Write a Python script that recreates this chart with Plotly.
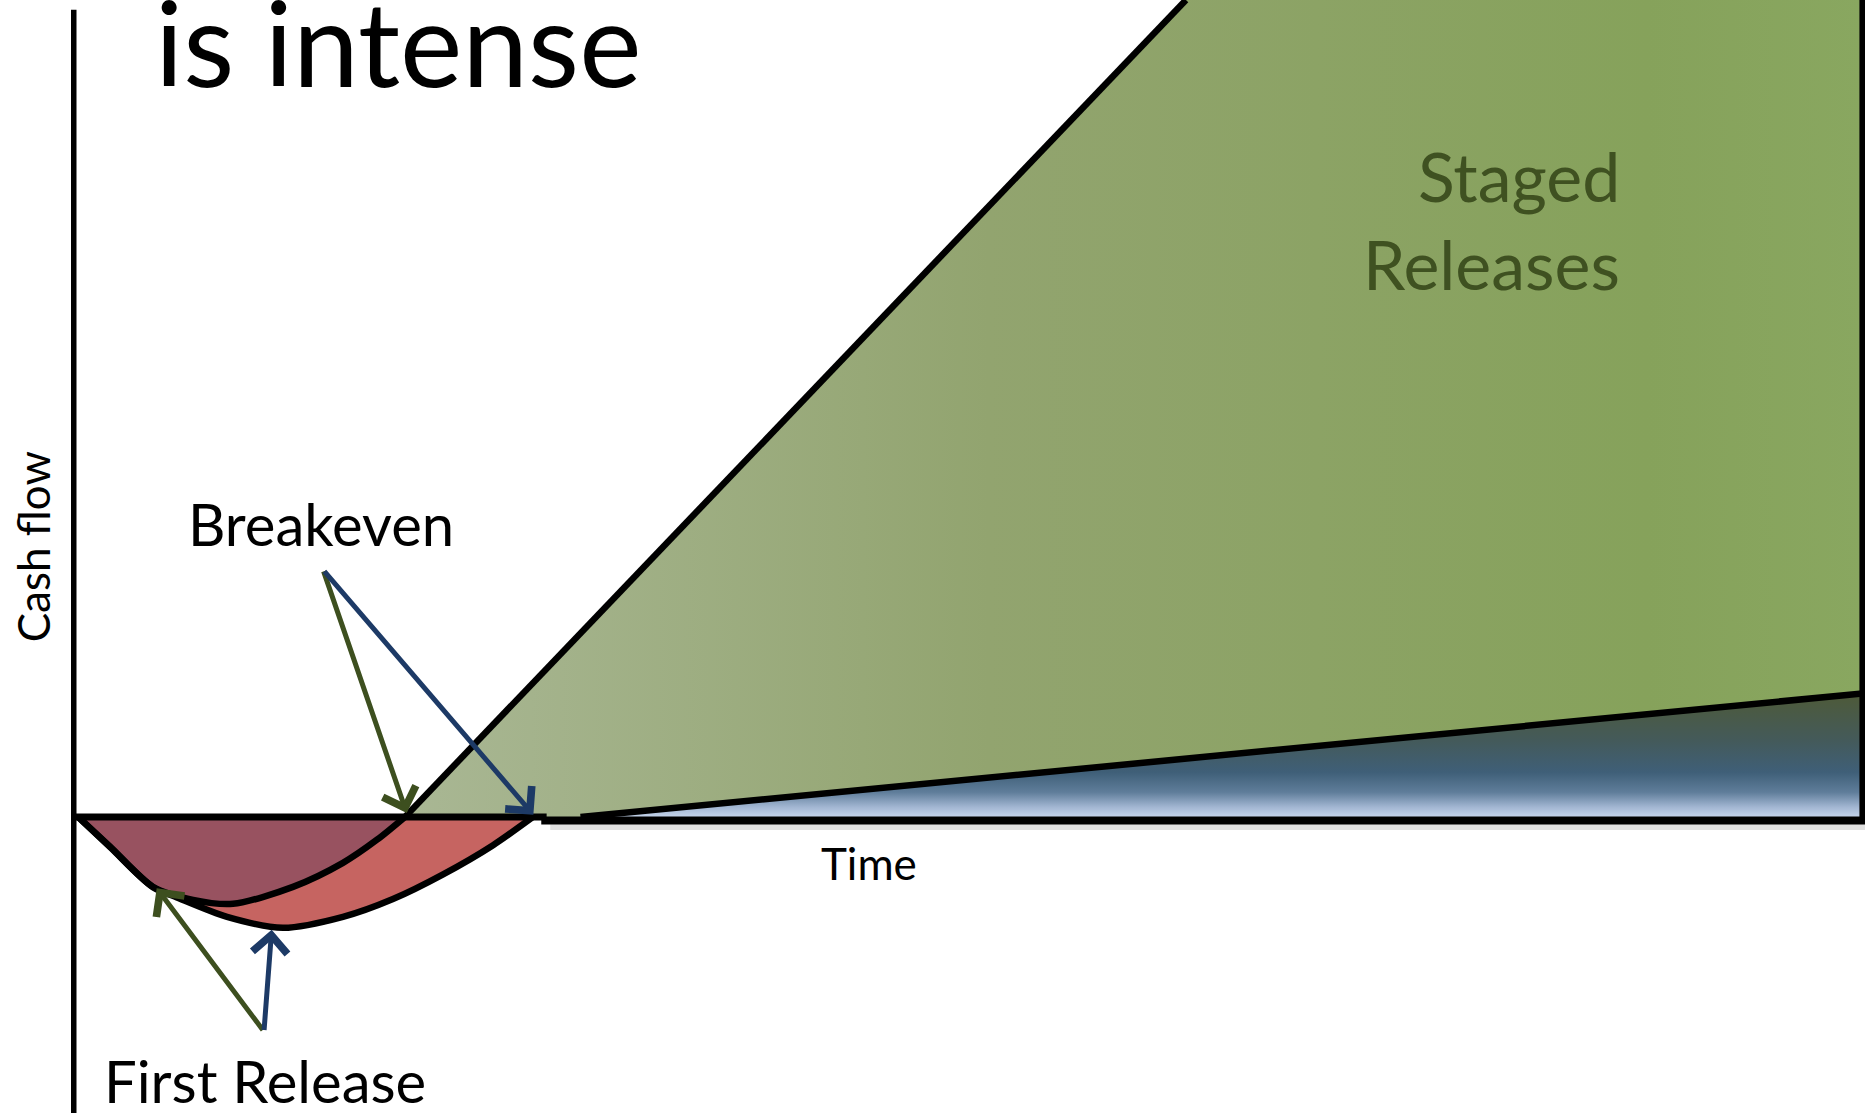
import plotly.graph_objects as go

# Cash flow over time: staged releases vs. one single release
# Investment dip of the first staged release (cash below zero)
staged_dip_time = [0.24, 2.03, 4.42, 6.66, 8.89, 12.24, 15.03, 16.93, 18.49]
staged_dip_cash = [0.0, -3.64, -8.55, -10.15, -10.64, -8.56, -5.62, -2.79, 0.0]

# Investment dip of the single big release
single_dip_time = [0.24, 2.03, 4.42, 5.76, 8.56, 11.68, 15.03, 17.82, 20.62, 23.41, 25.64]
single_dip_cash = [0.0, -3.7, -8.6, -9.85, -12.23, -13.57, -12.23, -10.05, -7.03, -3.46, 0.0]

# Returns after breakeven
staged_return_time = [18.49, 62.09, 100.0, 100.0, 28.29]
staged_return_cash = [0.0, 100.0, 100.0, 15.14, 0.0]
single_return_time = [28.29, 99.87, 99.87]
single_return_cash = [0.0, 15.14, 0.0]

# Callout arrows: (tail time, tail cash, head time, head cash)
breakeven_staged = (13.92, 30.25, 18.59, 0.47)
breakeven_single = (13.92, 30.25, 25.66, 0.26)
release_staged = (10.62, -26.26, 4.63, -8.72)
release_single = (10.62, -26.26, 11.05, -13.81)

FONT = "Lato"
STAGED_ARROW = "#3d4f1f"
SINGLE_ARROW = "#1d3a66"
OUTLINE = 6.5
SPLINE = dict(shape="spline", smoothing=0.8)

fig = go.Figure()

# Dips below zero: single release first, staged release on top
fig.add_trace(go.Scatter(
    x=single_dip_time, y=single_dip_cash,
    mode="lines", fill="tozeroy", fillcolor="#c66461",
    line=dict(color="rgba(0,0,0,0)", width=0, **SPLINE),
    hoverinfo="skip", showlegend=False))
fig.add_trace(go.Scatter(
    x=staged_dip_time, y=staged_dip_cash,
    mode="lines", fill="tozeroy", fillcolor="#985260",
    line=dict(color="rgba(0,0,0,0)", width=0, **SPLINE),
    hoverinfo="skip", showlegend=False))
for tt, cc in [(single_dip_time, single_dip_cash), (staged_dip_time, staged_dip_cash)]:
    fig.add_trace(go.Scatter(
        x=tt, y=cc, mode="lines",
        line=dict(color="black", width=OUTLINE, **SPLINE),
        hoverinfo="skip", showlegend=False))

# Returns regions
fig.add_trace(go.Scatter(
    x=staged_return_time, y=staged_return_cash,
    mode="lines", fill="toself",
    fillgradient=dict(type="horizontal",
                      colorscale=[[0, "#a9b794"], [0.4, "#92a46f"], [0.85, "#86a25b"],
                                  [1, "#89a760"]]),
    line=dict(color="rgba(0,0,0,0)", width=0),
    hoverinfo="skip", showlegend=False))
fig.add_trace(go.Scatter(
    x=single_return_time, y=single_return_cash,
    mode="lines", fill="toself",
    fillgradient=dict(type="vertical",
                      colorscale=[[0, "#c4d3ea"], [0.08, "#a2b6d2"], [0.2, "#5f7d9a"],
                                  [0.36, "#3f5f78"], [0.62, "#445a5a"], [1, "#4e5a38"]]),
    line=dict(color="rgba(0,0,0,0)", width=0),
    hoverinfo="skip", showlegend=False))

# Outline of the returns regions
fig.add_trace(go.Scatter(
    x=staged_return_time[:2], y=staged_return_cash[:2], mode="lines",
    line=dict(color="black", width=OUTLINE), hoverinfo="skip", showlegend=False))
fig.add_trace(go.Scatter(
    x=[staged_return_time[4], staged_return_time[3]],
    y=[staged_return_cash[4], staged_return_cash[3]], mode="lines",
    line=dict(color="black", width=OUTLINE), hoverinfo="skip", showlegend=False))
fig.add_trace(go.Scatter(
    x=[99.87, 99.87], y=[100.0, -0.45], mode="lines",
    line=dict(color="black", width=OUTLINE), hoverinfo="skip", showlegend=False))

# Time axis (zero cash line), with its soft shadow, and cash flow axis
fig.add_trace(go.Scatter(
    x=[26.6, 100.0], y=[-1.1, -1.1], mode="lines",
    line=dict(color="rgba(0,0,0,0.12)", width=8), hoverinfo="skip", showlegend=False))
fig.add_trace(go.Scatter(
    x=[0.0, 26.4], y=[0.0, 0.0], mode="lines",
    line=dict(color="black", width=7), hoverinfo="skip", showlegend=False))
fig.add_trace(go.Scatter(
    x=[26.1, 100.0], y=[-0.45, -0.45], mode="lines",
    line=dict(color="black", width=8), hoverinfo="skip", showlegend=False))
fig.add_trace(go.Scatter(
    x=[0.0, 0.0], y=[98.8, -37.0], mode="lines",
    line=dict(color="black", width=5.5), hoverinfo="skip", showlegend=False))

annotations = []
for (tx, ty, hx, hy), col in [(breakeven_staged, STAGED_ARROW), (breakeven_single, SINGLE_ARROW),
                              (release_staged, STAGED_ARROW), (release_single, SINGLE_ARROW)]:
    annotations.append(dict(
        x=hx, y=hy, ax=tx, ay=ty, xref="x", yref="y", axref="x", ayref="y",
        text="", showarrow=True, arrowhead=4, arrowsize=1.35, arrowwidth=5,
        arrowcolor=col, standoff=0, startstandoff=0))

labels = [
    dict(text="is intense", x=4.45, y=94.9, size=118, xanchor="left", color="black"),
    dict(text="Breakeven", x=13.81, y=35.95, size=58, xanchor="center", color="black"),
    dict(text="First Release", x=10.69, y=-32.2, size=58, xanchor="center", color="black"),
    dict(text="Time", x=44.42, y=-5.68, size=44, xanchor="center", color="black"),
    dict(text="Staged", x=86.45, y=78.46, size=68, xanchor="right", color="#3f5121"),
    dict(text="Releases", x=86.45, y=67.69, size=68, xanchor="right", color="#3f5121"),
]
for lb in labels:
    annotations.append(dict(
        text=lb["text"], x=lb["x"], y=lb["y"], xref="x", yref="y",
        xanchor=lb["xanchor"], yanchor="middle", showarrow=False,
        font=dict(family=FONT, size=lb["size"], color=lb["color"])))
annotations.append(dict(
    text="Cash flow", x=-2.26, y=33.04, xref="x", yref="y", textangle=-90,
    xanchor="center", yanchor="middle", showarrow=False,
    font=dict(family=FONT, size=44, color="black")))

fig.update_layout(
    width=1865, height=1113,
    margin=dict(l=0, r=0, t=0, b=0),
    paper_bgcolor="white", plot_bgcolor="white",
    xaxis=dict(range=[-4.117, 100.0], visible=False, fixedrange=True),
    yaxis=dict(range=[-36.24, 100.0], visible=False, fixedrange=True),
    annotations=annotations,
    showlegend=False,
)

fig.write_html("out.html")
